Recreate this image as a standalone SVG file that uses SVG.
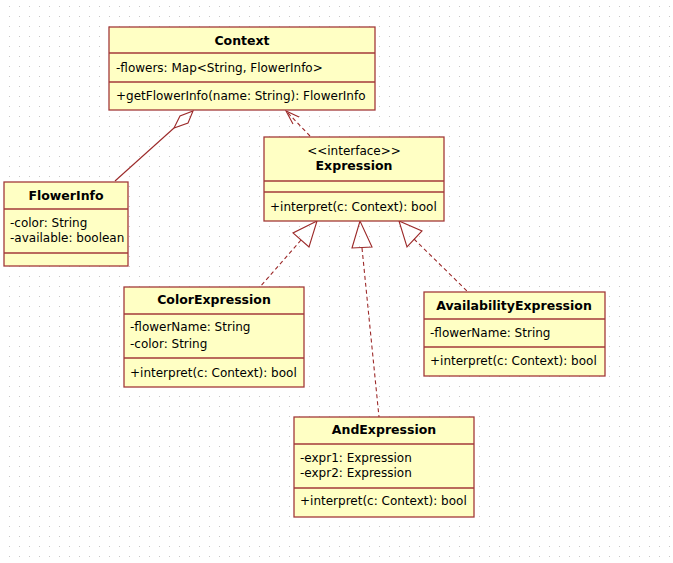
<svg xmlns="http://www.w3.org/2000/svg" width="673" height="563" viewBox="0 0 673 563">
<defs>
<pattern id="grid" x="0" y="0" width="10" height="10" patternUnits="userSpaceOnUse">
<rect x="9" y="6" width="1" height="1" fill="#c8c8c8"/>
</pattern>
<style>
.box{fill:#ffffc4;stroke:#a33a3a;stroke-width:1.3}
.sep{stroke:#a33a3a;stroke-width:1.3}
.t{font-family:"DejaVu Sans",Verdana,sans-serif;font-size:12px;fill:#000}
.b{font-weight:bold;text-anchor:middle;font-size:12.5px}
.c{text-anchor:middle}
.ln{fill:none;stroke:#9c2a2a;stroke-width:1.1}
.dash{stroke-dasharray:4,3}
.tri{fill:none;stroke:#9c2a2a;stroke-width:1.1}
</style>
</defs>
<rect width="673" height="563" fill="#ffffff"/>
<rect width="673" height="563" fill="url(#grid)"/>

<g id="connectors">
<polygon class="tri" points="193,111 188,123 174,128 180,116"/>
<line class="ln" x1="174" y1="128" x2="115" y2="181"/>
<line class="ln dash" x1="310" y1="136" x2="287" y2="112"/>
<polyline class="ln" points="299,117 286,111 293,124"/>
<polygon class="tri" points="317,221 293,233 309,247"/>
<line class="ln dash" x1="301" y1="240" x2="260" y2="287"/>
<polygon class="tri" points="360,221 352,248 372,247"/>
<line class="ln dash" x1="362" y1="248" x2="379" y2="417"/>
<polygon class="tri" points="399,221 407,247 422,231"/>
<line class="ln dash" x1="414" y1="239" x2="468" y2="292"/>
</g>

<g id="Context">
<rect class="box" x="109" y="27" width="266" height="83"/>
<line class="sep" x1="109" y1="53" x2="375" y2="53"/>
<line class="sep" x1="109" y1="82" x2="375" y2="82"/>
<text class="t b" x="242" y="45">Context</text>
<text class="t" x="116" y="72">-flowers: Map&lt;String, FlowerInfo&gt;</text>
<text class="t" x="116" y="100">+getFlowerInfo(name: String): FlowerInfo</text>
</g>

<g id="FlowerInfo">
<rect class="box" x="4" y="182" width="124" height="84"/>
<line class="sep" x1="4" y1="209" x2="128" y2="209"/>
<line class="sep" x1="4" y1="253" x2="128" y2="253"/>
<text class="t b" x="66" y="200">FlowerInfo</text>
<text class="t" x="10" y="227">-color: String</text>
<text class="t" x="10" y="242">-available: boolean</text>
</g>

<g id="Expression">
<rect class="box" x="264" y="137" width="180" height="84"/>
<line class="sep" x1="264" y1="181" x2="444" y2="181"/>
<line class="sep" x1="264" y1="192" x2="444" y2="192"/>
<text class="t c" x="354" y="155">&lt;&lt;interface&gt;&gt;</text>
<text class="t b" x="354" y="170">Expression</text>
<text class="t" x="270" y="211">+interpret(c: Context): bool</text>
</g>

<g id="ColorExpression">
<rect class="box" x="124" y="287" width="180" height="100"/>
<line class="sep" x1="124" y1="314" x2="304" y2="314"/>
<line class="sep" x1="124" y1="358" x2="304" y2="358"/>
<text class="t b" x="214" y="304">ColorExpression</text>
<text class="t" x="130" y="331">-flowerName: String</text>
<text class="t" x="130" y="348">-color: String</text>
<text class="t" x="130" y="377">+interpret(c: Context): bool</text>
</g>

<g id="AvailabilityExpression">
<rect class="box" x="424" y="292" width="181" height="84"/>
<line class="sep" x1="424" y1="319" x2="605" y2="319"/>
<line class="sep" x1="424" y1="347" x2="605" y2="347"/>
<text class="t b" x="514" y="310">AvailabilityExpression</text>
<text class="t" x="430" y="337">-flowerName: String</text>
<text class="t" x="430" y="365">+interpret(c: Context): bool</text>
</g>

<g id="AndExpression">
<rect class="box" x="294" y="417" width="180" height="100"/>
<line class="sep" x1="294" y1="444" x2="474" y2="444"/>
<line class="sep" x1="294" y1="488" x2="474" y2="488"/>
<text class="t b" x="384" y="434">AndExpression</text>
<text class="t" x="300" y="462">-expr1: Expression</text>
<text class="t" x="300" y="477">-expr2: Expression</text>
<text class="t" x="300" y="505">+interpret(c: Context): bool</text>
</g>
</svg>
